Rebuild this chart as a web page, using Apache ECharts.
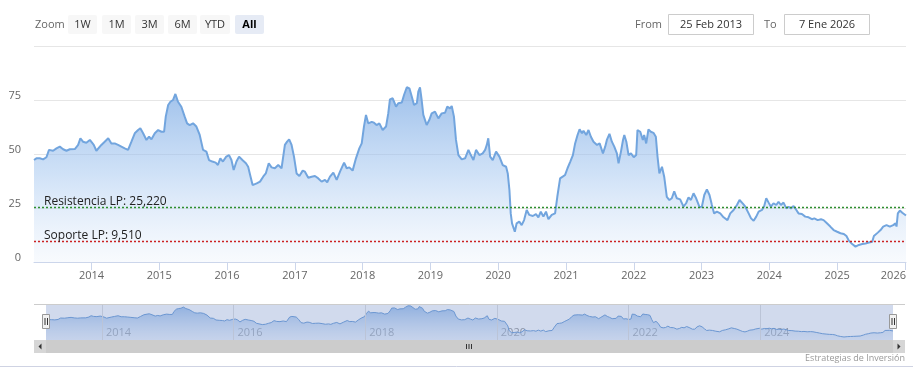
<!DOCTYPE html>
<html>
<head>
<meta charset="utf-8">
<script src="https://cdn.jsdelivr.net/npm/echarts@6/dist/echarts.min.js"></script>
<style>
html,body{margin:0;padding:0;background:#fff;}
#chart{width:913px;height:383px;}
</style>
</head>
<body>
<div id="chart"></div>
<script>
// ---- data ----
const dates = [
'2013-02-25','2013-03-10','2013-03-19','2013-03-28','2013-04-15','2013-05-03','2013-05-17','2013-06-08','2013-06-26','2013-07-14',
'2013-08-01','2013-08-19','2013-09-06','2013-10-03','2013-10-21','2013-11-02','2013-11-16','2013-12-04','2013-12-23','2014-01-01',
'2014-01-13','2014-01-27','2014-02-05','2014-02-23','2014-03-13','2014-04-01','2014-04-18','2014-05-06','2014-05-24','2014-06-11',
'2014-06-29','2014-07-17','2014-08-04','2014-08-22','2014-09-09','2014-09-21','2014-10-06','2014-10-24','2014-11-07','2014-11-20',
'2014-12-08','2014-12-26','2015-01-13','2015-01-27','2015-02-05','2015-02-18','2015-03-02','2015-03-16','2015-03-29','2015-04-12',
'2015-04-30','2015-05-18','2015-05-31','2015-06-14','2015-07-02','2015-07-20','2015-08-07','2015-08-25','2015-09-12','2015-09-26',
'2015-10-14','2015-11-01','2015-11-13','2015-11-26','2015-12-10','2015-12-28','2016-01-12','2016-01-25','2016-02-06','2016-02-21',
'2016-03-06','2016-03-24','2016-04-12','2016-04-24','2016-05-07','2016-05-18','2016-06-09','2016-06-27',
'2016-07-14','2016-07-28','2016-08-04','2016-08-13','2016-08-28','2016-09-15','2016-10-03','2016-10-21','2016-11-08','2016-11-20',
'2016-12-01','2016-12-14','2016-12-27','2017-01-10','2017-01-25','2017-02-12','2017-02-24','2017-03-14','2017-04-01','2017-04-19',
'2017-05-07','2017-05-25','2017-06-12','2017-06-24','2017-07-09','2017-07-27','2017-08-14','2017-09-01','2017-09-23','2017-10-07',
'2017-10-21','2017-11-08','2017-11-26','2017-12-14','2017-12-27','2018-01-08','2018-01-19','2018-01-31','2018-02-19','2018-03-03',
'2018-03-17','2018-04-01','2018-04-19','2018-05-07','2018-05-19','2018-05-28','2018-06-12','2018-06-30','2018-07-12','2018-07-31',
'2018-08-12','2018-08-27','2018-09-10','2018-09-23','2018-10-05','2018-10-20','2018-10-28','2018-11-06','2018-11-15','2018-11-24',
'2018-12-12','2018-12-26','2019-01-08','2019-01-26','2019-02-13','2019-03-03','2019-03-21','2019-04-02','2019-04-17','2019-04-26',
'2019-05-08','2019-05-19','2019-06-01','2019-06-19','2019-07-07','2019-07-25','2019-08-07','2019-08-21','2019-09-04','2019-09-22',
'2019-10-10','2019-10-23','2019-11-01','2019-11-09','2019-11-19','2019-12-03','2019-12-21','2020-01-08','2020-01-26','2020-02-13',
'2020-02-22','2020-03-02','2020-03-09','2020-03-16','2020-03-23','2020-03-31','2020-04-10','2020-04-24','2020-05-07','2020-05-20',
'2020-06-03','2020-06-17','2020-07-06','2020-07-23','2020-08-05','2020-08-18','2020-09-01','2020-09-15','2020-09-28','2020-10-16',
'2020-11-03','2020-11-15','2020-11-30','2020-12-14','2020-12-27','2021-01-09','2021-01-24','2021-02-07','2021-02-19','2021-03-04',
'2021-03-15','2021-03-28','2021-04-05','2021-04-20','2021-05-02','2021-05-15','2021-05-29','2021-06-17','2021-07-01','2021-07-19',
'2021-07-31','2021-08-09','2021-08-23','2021-09-05','2021-09-18','2021-10-02','2021-10-11','2021-10-24','2021-11-04','2021-11-11',
'2021-11-22','2021-12-04','2021-12-17','2022-01-01','2022-01-14','2022-01-21','2022-02-05','2022-02-19','2022-02-26','2022-03-09',
'2022-03-21','2022-04-03','2022-04-17','2022-04-30','2022-05-09','2022-05-19','2022-06-02','2022-06-14','2022-06-28','2022-07-12',
'2022-07-25','2022-08-07','2022-08-21','2022-09-08','2022-09-26','2022-10-10','2022-10-23','2022-11-05','2022-11-19','2022-12-03',
'2022-12-21','2023-01-03','2023-01-16','2023-01-30','2023-02-13','2023-02-26','2023-03-10','2023-03-25','2023-04-12','2023-04-30',
'2023-05-21','2023-06-05','2023-06-23','2023-07-11','2023-07-25','2023-08-13','2023-08-25','2023-09-12','2023-09-25','2023-10-09',
'2023-10-23','2023-11-05','2023-11-23','2023-12-05','2023-12-16','2023-12-28','2024-01-10','2024-01-24','2024-02-08','2024-02-20',
'2024-03-04','2024-03-18','2024-04-02','2024-04-14','2024-04-27','2024-05-11','2024-05-26','2024-06-07','2024-06-25','2024-07-13',
'2024-07-31','2024-08-18','2024-08-31','2024-09-18','2024-10-06','2024-10-20','2024-11-07','2024-11-25','2024-12-13','2025-01-01',
'2025-01-19','2025-02-06','2025-02-20','2025-03-05','2025-03-23','2025-04-10','2025-04-28','2025-05-16','2025-06-03','2025-06-21',
'2025-07-09','2025-07-18','2025-07-27','2025-08-08','2025-08-23','2025-09-06','2025-09-24','2025-10-12','2025-10-30','2025-11-12',
'2025-11-17','2025-11-24','2025-12-05','2025-12-18','2026-01-07'
];
const values = [
47.2,48,47.2,48,47.5,48.5,51.9,51.5,52.6,53.4,
52.2,51.5,52.2,52.3,54.2,57.3,55.7,55.2,56.5,56.8,
54.2,51.5,50.6,54.2,55.7,57.3,54.9,54.9,54.2,53.4,
52.6,51.9,55.7,59.6,61.1,61.9,59.6,56.5,58,56.8,
59.6,61.1,60.3,60.3,67.3,72.7,74.2,75,77.8,74.2,
71.9,67.3,64.2,63.4,64.2,62.7,58.8,51.9,51.1,47.2,
46.5,46,44.9,48,46.5,48.8,49.5,47.2,42.6,46.5,
48.8,47.2,45.7,44.1,39.5,35.6,36.4,37.2,
39.5,41,40.3,45.7,43.8,43.4,44.9,43.4,54.2,55.7,
56.8,54.2,48.8,41,39.8,42.3,41.8,39,39.5,39.8,
38.7,37.2,38,36.9,39.5,41.4,38,41.8,46,43.4,
43.8,42.3,48,52.6,54.9,62.7,68.1,64.2,64.9,64.5,
63.4,64.2,61.1,62.7,68.8,75.3,75.8,71.9,73.5,73.8,
77.3,80.9,80.4,76.5,72.7,73.5,78.9,80.9,75,68.1,
63.4,65.7,68.8,69.6,66.5,68.8,69.1,71.9,71.1,72.2,
67.3,56.5,49.5,47.5,48,51.9,49.5,47.2,51.9,49.5,
50.3,51.9,54.2,57.3,48.8,47.2,51.1,48.8,44.9,44.1,
41,33.3,22.5,17.9,17.1,14,17.9,18.7,17.1,19.4,
24.1,21.8,21.3,22.2,20.7,23.3,21,23.3,19.8,21.8,
22.5,30.2,38.7,39.5,40.3,43.4,46.5,49.5,54.9,58.8,
61.4,59.6,60.8,58.8,61.1,58,55.7,54.2,54.9,50.3,
53.4,56.5,59.3,55.7,53.4,50.3,45.7,51.1,56.5,58.8,
55.7,49.5,50.3,48.5,49.5,61.1,60.3,56.5,58.8,54.9,
61.4,60.3,59.8,58,48.8,41,44.1,39.5,30.2,28.7,
29.5,32.7,29.5,29,25.6,27.2,29.9,28.7,31.8,29.5,
25.5,25.6,31,33.6,31,26.4,22.5,23.3,22.5,20.7,
19.4,22.5,24.1,26.4,28.7,26.9,25.6,22.5,20.2,19.1,
21,23.3,24.1,25.9,29.5,27.6,25.6,27.2,26.4,27.9,
26.4,27.5,24.8,25.6,24.8,25.9,24.1,22.5,22.2,21,
20.7,19.8,20.2,19.4,19.8,19.4,17.9,16.4,14.8,14,
13.3,13,12,9.9,8.3,7.1,7.9,8.3,8.6,9,
9.4,12,11.7,13.6,14.8,16.4,17.1,16.4,17.1,17.9,
16.4,22.5,23.8,22.8,21.5
];
const yearTicks = ['2014','2015','2016','2017','2018','2019','2020','2021','2022','2023','2024','2025','2026'];
const navigatorTicks = ['2014','2016','2018','2020','2022','2024'];
const resistance = 25.22;
const support = 9.51;
const resistanceLabel = 'Resistencia LP: 25,220';
const supportLabel = 'Soporte LP: 9,510';
const rangeButtons = ['1W','1M','3M','6M','YTD','All'];
const fromDate = '25 Feb 2013';
const toDate = '7 Ene 2026';
const creditText = 'Estrategias de Inversión';

// ---- build ----
const FONT = '"Open Sans", sans-serif';
const toTime = s => Date.UTC(+s.slice(0,4), +s.slice(5,7) - 1, +s.slice(8,10));
const seriesData = dates.map((d, i) => [toTime(d), values[i]]);
const xMin = toTime(dates[0]);
const xMax = toTime(dates[dates.length - 1]);
const yearValues = yearTicks.map(y => Date.UTC(+y, 0, 1));
const navValues = navigatorTicks.map(y => Date.UTC(+y, 0, 1));
const yearOf = v => String(new Date(v + 43200000).getUTCFullYear());
const lastYear = yearTicks[yearTicks.length - 1];
const mainYearFmt = v => { const y = yearOf(v); return y === lastYear ? '{last|' + y + '}' : y; };

const chart = echarts.init(document.getElementById('chart'), null, {renderer: 'canvas'});

const graphics = [];
// Range selector
graphics.push({type:'text', x:35, y:24.5, style:{text:'Zoom', fill:'#666', font:'11px ' + FONT, verticalAlign:'middle'}});
const btnX = [68, 102, 135, 168, 200, 235];
const btnW = [29, 29, 29, 29, 30, 29];
rangeButtons.forEach((b, i) => {
  const sel = b === 'All';
  graphics.push({type:'rect', shape:{x:btnX[i], y:15, width:btnW[i], height:19, r:2},
    style:{fill: sel ? '#e6ebf5' : '#f7f7f7'}});
  graphics.push({type:'text', x:btnX[i] + btnW[i]/2, y:24.5,
    style:{text:b, fill: sel ? '#000' : '#333', font:(sel ? 'bold ' : '') + '11px ' + FONT, align:'center', verticalAlign:'middle'}});
});
graphics.push({type:'text', x:635, y:24.5, style:{text:'From', fill:'#666', font:'11px ' + FONT, verticalAlign:'middle'}});
graphics.push({type:'rect', shape:{x:668.5, y:14.5, width:85, height:20}, style:{fill:'#fff', stroke:'#cccccc', lineWidth:1}});
graphics.push({type:'text', x:711, y:24.5, style:{text:fromDate, fill:'#333', font:'11px ' + FONT, align:'center', verticalAlign:'middle'}});
graphics.push({type:'text', x:764, y:24.5, style:{text:'To', fill:'#666', font:'11px ' + FONT, verticalAlign:'middle'}});
graphics.push({type:'rect', shape:{x:784.5, y:14.5, width:85, height:20}, style:{fill:'#fff', stroke:'#cccccc', lineWidth:1}});
graphics.push({type:'text', x:827, y:24.5, style:{text:toDate, fill:'#333', font:'11px ' + FONT, align:'center', verticalAlign:'middle'}});

// Navigator mask and outline
graphics.push({type:'rect', z:50, shape:{x:46, y:304, width:847, height:36}, style:{fill:'rgba(102,133,194,0.3)'}, silent:true});
graphics.push({type:'line', z:51, shape:{x1:34, y1:304.5, x2:905, y2:304.5}, style:{stroke:'#cccccc', lineWidth:1}});
[46, 893].forEach(hx => {
  graphics.push({type:'rect', z:52, shape:{x:hx - 3.5, y:314.5, width:7, height:14}, style:{fill:'#f2f2f2', stroke:'#999999', lineWidth:1}});
  graphics.push({type:'line', z:53, shape:{x1:hx - 1, y1:318, x2:hx - 1, y2:325}, style:{stroke:'#333', lineWidth:1}});
  graphics.push({type:'line', z:53, shape:{x1:hx + 1.5, y1:318, x2:hx + 1.5, y2:325}, style:{stroke:'#333', lineWidth:1}});
});
// Scrollbar
graphics.push({type:'rect', z:50, shape:{x:34, y:340, width:871, height:13}, style:{fill:'#f2f2f2'}});
graphics.push({type:'rect', z:51, shape:{x:46, y:340, width:847, height:13}, style:{fill:'#cccccc'}});
graphics.push({type:'rect', z:51, shape:{x:34, y:340, width:12, height:13}, style:{fill:'#d6d6d6'}});
graphics.push({type:'rect', z:51, shape:{x:893, y:340, width:12, height:13}, style:{fill:'#d6d6d6'}});
graphics.push({type:'polygon', z:52, shape:{points:[[41.5,343.5],[41.5,349.5],[38.5,346.5]]}, style:{fill:'#333'}});
graphics.push({type:'polygon', z:52, shape:{points:[[897.5,343.5],[897.5,349.5],[900.5,346.5]]}, style:{fill:'#333'}});
[466.5, 469, 471.5].forEach(gx => {
  graphics.push({type:'line', z:52, shape:{x1:gx, y1:344, x2:gx, y2:349}, style:{stroke:'#333', lineWidth:1}});
});
graphics.push({type:'text', x:905, y:358, style:{text:creditText, fill:'#999', font:'9px ' + FONT, align:'right', verticalAlign:'middle'}});
graphics.push({type:'line', shape:{x1:0, y1:366.5, x2:913, y2:366.5}, style:{stroke:'#cfd3e3', lineWidth:1}});

function plotLineSeries(value, color, text) {
  return {
    type:'line', xAxisIndex:0, yAxisIndex:0, data:[], symbol:'none', silent:true,
    color: color,
    markLine:{
      silent:true, symbol:'none', animation:false,
      itemStyle:{color:color},
      lineStyle:{color:color, type:[2,2], width:1.3, opacity:1},
      label:{show:true, position:'insideStartTop', formatter:text, color:'#222', fontSize:12, fontFamily:FONT, distance:[10,0]},
      emphasis:{disabled:true},
      data:[{yAxis:value, lineStyle:{color:color}}]
    }
  };
}

const option = {
  animation: false,
  backgroundColor: '#fff',
  textStyle: {fontFamily: FONT},
  grid: [
    {left:34, right:7, top:46, height:216, containLabel:false, outerBoundsMode:'none'},
    {left:46, right:20, top:304, height:36, containLabel:false, outerBoundsMode:'none'}
  ],
  xAxis: [
    {
      type:'value', gridIndex:0, min:xMin, max:xMax, scale:true,
      axisLine:{show:true, onZero:false, lineStyle:{color:'#ccd6eb'}},
      axisTick:{show:true, customValues:yearValues, length:8, lineStyle:{color:'#ccd6eb'}},
      axisLabel:{customValues:yearValues, formatter:mainYearFmt, color:'#666', fontSize:11, fontFamily:FONT, margin:8, hideOverlap:false,
        rich:{last:{color:'#666', fontSize:11, fontFamily:FONT, padding:[0,23,0,0]}}},
      splitLine:{show:false}
    },
    {
      type:'value', gridIndex:1, min:xMin, max:xMax, scale:true,
      axisLine:{show:false},
      axisTick:{show:false, customValues:navValues},
      axisLabel:{customValues:navValues, formatter:yearOf, inside:true, align:'left', padding:[0,0,0,4], color:'#999', fontSize:11, fontFamily:FONT, margin:2, verticalAlign:'bottom'},
      splitLine:{show:false}
    }
  ],
  yAxis: [
    {
      type:'value', gridIndex:0, min:0, max:100, interval:25,
      axisLine:{show:false}, axisTick:{show:false},
      axisLabel:{color:'#666', fontSize:11, fontFamily:FONT, margin:13, showMaxLabel:false, verticalAlign:'bottom', lineHeight:8},
      splitLine:{lineStyle:{color:'#e6e6e6'}}
    },
    {
      type:'value', gridIndex:1, min:0, max:85,
      show:false, splitLine:{show:false}
    }
  ],
  series: [
    {
      type:'line', xAxisIndex:0, yAxisIndex:0, data:seriesData,
      symbol:'none', smooth:false,
      lineStyle:{color:'#72a5de', width:2},
      areaStyle:{color:new echarts.graphic.LinearGradient(0,0,0,1,[
        {offset:0, color:'rgba(108,160,224,0.95)'},
        {offset:0.5, color:'rgba(165,199,240,0.75)'},
        {offset:1, color:'rgba(235,242,251,0.5)'}
      ])}
    },
    plotLineSeries(resistance, '#2f8f2f', resistanceLabel),
    plotLineSeries(support, '#cc2222', supportLabel),
    {
      type:'line', xAxisIndex:1, yAxisIndex:1, data:seriesData,
      symbol:'none', silent:true,
      lineStyle:{color:'#6e9fd8', width:1},
      areaStyle:{color:new echarts.graphic.LinearGradient(0,0,0,1,[
        {offset:0, color:'rgba(100,155,222,0.85)'},
        {offset:1, color:'rgba(210,226,247,0.5)'}
      ])},
      markLine:{
        silent:true, symbol:'none', animation:false, label:{show:false},
        lineStyle:{color:'#e0e0e0', type:'solid', width:1},
        data: navValues.map(v => ({xAxis:v}))
      }
    }
  ],
  graphic: graphics
};
chart.setOption(option);
</script>
</body>
</html>
